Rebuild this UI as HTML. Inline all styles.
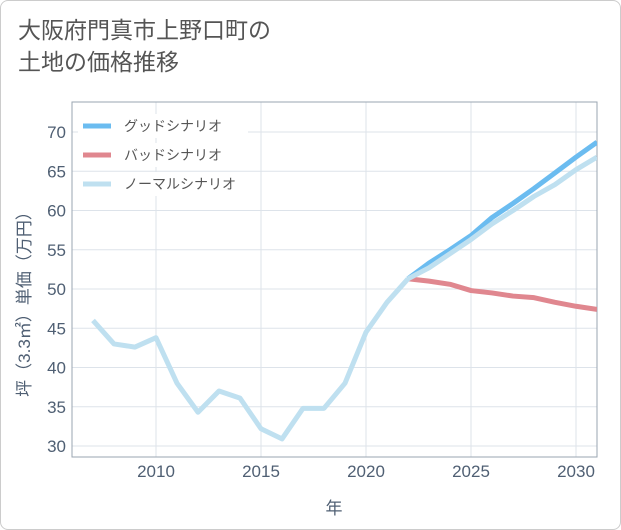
<!DOCTYPE html>
<html><head><meta charset="utf-8"><style>
body{margin:0;background:#fff;font-family:"Liberation Sans","Noto Sans CJK JP",sans-serif;}
#card{position:absolute;left:0;top:0;width:619px;height:528px;border:1px solid #ccc;border-radius:8px;background:#fff;}
#title{position:absolute;left:18px;top:14px;font-size:23px;line-height:32px;color:#555;}
svg{position:absolute;left:0;top:0;}
</style></head><body>
<div id="card"></div>
<div id="title">大阪府門真市上野口町の<br>土地の価格推移</div>
<svg id="chart" width="621" height="530"></svg>
<script>
const years=[2007,2008,2009,2010,2011,2012,2013,2014,2015,2016,2017,2018,2019,2020,2021,2022];
const history=[46,43,42.6,43.8,38,34.3,37,36.1,32.2,30.9,34.8,34.8,38,44.5,48.3,51.3];
const futureYears=[2022,2023,2024,2025,2026,2027,2028,2029,2030,2031];
const good=[51.3,53.3,55,56.8,59.1,60.9,62.8,64.8,66.8,68.7];
const bad=[51.3,51,50.6,49.8,49.5,49.1,48.9,48.3,47.8,47.4];
const normal=[51.3,52.7,54.5,56.3,58.3,60,61.8,63.3,65.2,66.8];
const yTicks=[30,35,40,45,50,55,60,65,70];
const xTicks=[2010,2015,2020,2025,2030];
const L=72,R=597,T=102,B=457;
const AX='#4f5f73';
const x=v=>156+(v-2010)*21;
const y=v=>446-(v-30)*7.85;
const ns="http://www.w3.org/2000/svg",svg=document.getElementById('chart');
function mk(t,a,p){const e=document.createElementNS(ns,t);for(const k in a)e.setAttribute(k,a[k]);(p||svg).appendChild(e);return e;}
const defs=mk('defs',{});const cp=mk('clipPath',{id:'c'},defs);mk('rect',{x:L,y:T,width:R-L,height:B-T},cp);
yTicks.forEach(v=>{const g=mk('line',{x1:L,x2:R,y1:y(v),y2:y(v),stroke:'#dde3ea','stroke-width':1});

const t=mk('text',{x:66,y:y(v)+6,'text-anchor':'end','font-size':17,fill:AX});t.textContent=v;
});
xTicks.forEach(v=>{const g=mk('line',{x1:x(v),x2:x(v),y1:T,y2:B,stroke:'#dde3ea','stroke-width':1});

const t=mk('text',{x:x(v),y:477,'text-anchor':'middle','font-size':17,fill:AX});t.textContent=v;
});
const fr=mk('rect',{x:L,y:T,width:R-L,height:B-T,fill:'none',stroke:'#9aa5b1','stroke-width':1});

function line(xs,vs,c,name){const p=mk('polyline',{points:xs.map((a,i)=>x(a)+','+y(vs[i])).join(' '),fill:'none',stroke:c,'stroke-width':5,'stroke-linejoin':'round','clip-path':'url(#c)'});
}
line(futureYears,bad,'#e0878f','bad-scenario-line');
line(futureYears,good,'#6bbcf0','good-scenario-line');
line(years,history,'#bfe0f0','history-line');
line(futureYears,normal,'#bfe0f0','normal-scenario-line');
[['グッドシナリオ','#6bbcf0'],['バッドシナリオ','#e0878f'],['ノーマルシナリオ','#bfe0f0']].forEach((d,i)=>{
const yy=126+i*29;const g=mk('g',{});
mk('rect',{x:78,y:yy-12,width:170,height:24,fill:'#fff'},g);
mk('line',{x1:83,x2:111,y1:yy,y2:yy,stroke:d[1],'stroke-width':5},g);
const t=mk('text',{x:124,y:yy+5,'font-size':14,fill:'#555'},g);t.textContent=d[0];});
const xt=mk('text',{x:334,y:514,'text-anchor':'middle','font-size':17,fill:AX});xt.textContent='年';

const yt=mk('text',{x:0,y:0,'text-anchor':'middle','font-size':17,fill:AX,transform:'translate(30,300) rotate(-90)'});yt.textContent='坪（3.3㎡）単価（万円）';

</script>
</body></html>
